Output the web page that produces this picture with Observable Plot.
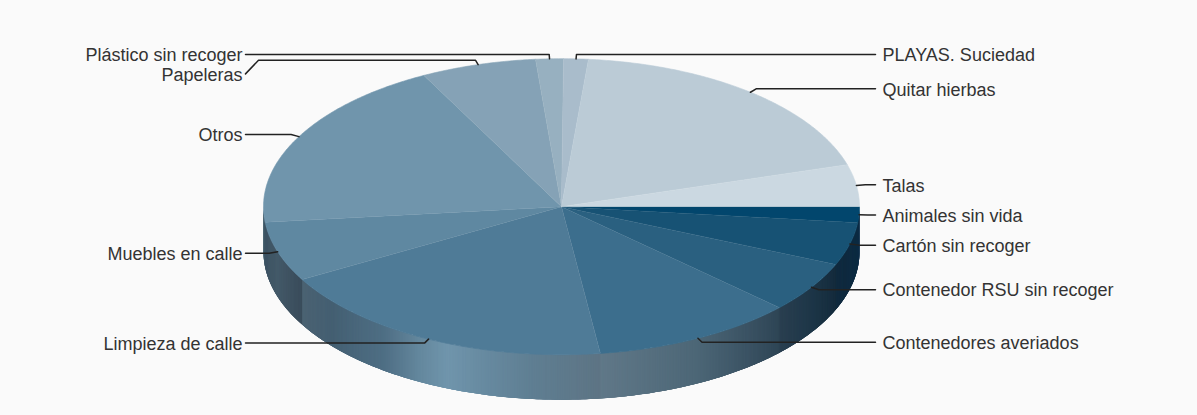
<!DOCTYPE html>
<html><head><meta charset="utf-8">
<script src="https://cdn.jsdelivr.net/npm/d3@7"></script>
<script src="https://cdn.jsdelivr.net/npm/@observablehq/plot@0.6"></script>
<style>html,body{margin:0;padding:0;background:#fafafa;overflow:hidden}svg{display:block}</style>
</head><body><div id="chart"></div>
<script>
const categories = ["Animales sin vida","Cartón sin recoger","Contenedor RSU sin recoger","Contenedores averiados","Limpieza de calle","Muebles en calle","Otros","Papeleras","Plástico sin recoger","PLAYAS. Suciedad","Quitar hierbas","Talas"];
const values = [6.2,16.8,20,39.5,68,23.5,68.5,22.5,5.4,4.8,68.3,16.5];
const sliceColors = ["#02466d","#175274","#2a6080","#3c6e8d","#4f7b97","#5f88a1","#7095ac","#85a2b6","#97b0c0","#a9bccb","#bbcbd6","#cbd8e1"];
// wall shading: per slice, [position across slice (0 start,1 end), colour]
const wallShades = [
  [[0,"#0b2e48"],[1,"#0c2c44"]],
  [[0,"#0c2b42"],[1,"#102a3e"]],
  [[0,"#142b3c"],[0.5,"#1d3648"],[1,"#2a3f50"]],
  [[0,"#2e4555"],[0.25,"#3d5566"],[0.5,"#4c6676"],[1,"#607888"]],
  [[0,"#5d7484"],[0.19,"#5f7e92"],[0.33,"#678aa0"],[0.44,"#7095ac"],[0.52,"#65899f"],[0.65,"#4e6e84"],[0.85,"#445f72"],[1,"#4b6272"]],
  [[0,"#3a4c5b"],[0.5,"#445a69"],[1,"#3c5262"]],
  [[0,"#3f5868"],[1,"#3f5868"]]
];

const cx = 561, cy = 206.2, rx = 298, ry = 148, depth = 45 / ry;
const W = 1197, H = 415;
const total = d3.sum(values);
const rad = (d) => d * Math.PI / 180;
let acc = 0;
const slices = categories.map((name, i) => {
  const a0 = acc / total * 360; acc += values[i]; const a1 = acc / total * 360;
  return {name, i, a0, a1, mid: (a0 + a1) / 2, color: sliceColors[i]};
});

const topFace = [];
for (const s of slices) {
  topFace.push({id: s.name, x: 0, y: 0, color: s.color});
  const n = Math.ceil((s.a1 - s.a0) * 2);
  for (let k = 0; k <= n; k++) {
    const a = rad(s.a0 + (s.a1 - s.a0) * k / n);
    topFace.push({id: s.name, x: Math.cos(a), y: Math.sin(a), color: s.color});
  }
}

// side wall: overlapping strips, each painted over the previous one so no seams show
const wall = [];
for (const s of slices) {
  const shades = wallShades[s.i]; if (!shades || s.a0 >= 180) continue;
  const end = Math.min(s.a1, 180);
  const ramp = d3.scaleLinear().domain(shades.map(d => d[0])).range(shades.map(d => d[1])).interpolate(d3.interpolateRgb);
  const n = Math.ceil((end - s.a0) * 3);
  for (let k = 0; k < n; k++) {
    const t0 = s.a0 + (end - s.a0) * k / n, t1 = s.a0 + (end - s.a0) * (k + 1) / n;
    const color = d3.rgb(ramp(((t0 + t1) / 2 - s.a0) / (s.a1 - s.a0))).formatHex();
    const id = s.name + k;
    const tEnd = Math.min(t1 + 1, 180), tm = (t0 + tEnd) / 2;
    for (const [a, d] of [[t0, 0], [tm, 0], [tEnd, 0], [tEnd, depth], [tm, depth], [t0, depth]])
      wall.push({id, x: Math.cos(rad(a)), y: Math.sin(rad(a)) + d, color});
  }
}

// leaders & labels, derived from slice mid-angles
const gap = 19.5 / ry, bend = 13 / rx, out = 1.03;
const edgeR = (875 - cx) / rx, edgeL = (245 - cx) / rx;
const labels = slices.map(s => {
  const a = rad(s.mid), ax = Math.cos(a), ay = Math.sin(a);
  return {name: s.name, ax, ay, ex: ax * out, ey: ay * out, right: ax > 0, ly: ay * out};
});
for (const side of [true, false]) {
  let prev = -Infinity;
  for (const l of labels.filter(l => l.right === side).sort((p, q) => p.ly - q.ly)) {
    if (l.ly - prev < gap) l.ly = prev + gap;
    prev = l.ly;
  }
}
const leaders = [];
for (const l of labels) {
  const edge = l.right ? edgeR : edgeL;
  const pts = [[l.ax, l.ay], [l.ex, l.ey]];
  if (Math.abs(l.ly - l.ey) > 1e-6) pts.push([edge + (l.right ? -bend : bend), l.ey]);
  pts.push([edge, l.ly]);
  for (const [x, y] of pts) leaders.push({id: l.name, x, y});
}

const textOpts = {x: d => d.right ? edgeR : edgeL, y: "ly", text: "name", fontSize: 18, fill: "#333", lineAnchor: "middle", fontFamily: "Liberation Sans, Arial, sans-serif"};

const chart = Plot.plot({
  width: W, height: H, margin: 0,
  style: {background: "#fafafa"},
  x: {domain: [-cx / rx, (W - cx) / rx], range: [0, W], axis: null},
  y: {domain: [-cy / ry, (H - cy) / ry], range: [0, H], axis: null},
  color: {type: "identity"},
  marks: [
    Plot.line(wall, {x: "x", y: "y", z: "id", fill: "color", strokeWidth: 0, curve: "linear"}),
    Plot.line(topFace, {x: "x", y: "y", z: "id", fill: "color", stroke: "color", strokeWidth: 0.6, curve: "linear"}),
    Plot.line(leaders, {x: "x", y: "y", z: "id", stroke: "#222", strokeWidth: 1.5, curve: "linear"}),
    Plot.text(labels.filter(l => l.right), {...textOpts, textAnchor: "start", dx: 7, dy: 1}),
    Plot.text(labels.filter(l => !l.right), {...textOpts, textAnchor: "end", dx: -3, dy: 1})
  ]
});
document.getElementById("chart").append(chart);
</script></body></html>
